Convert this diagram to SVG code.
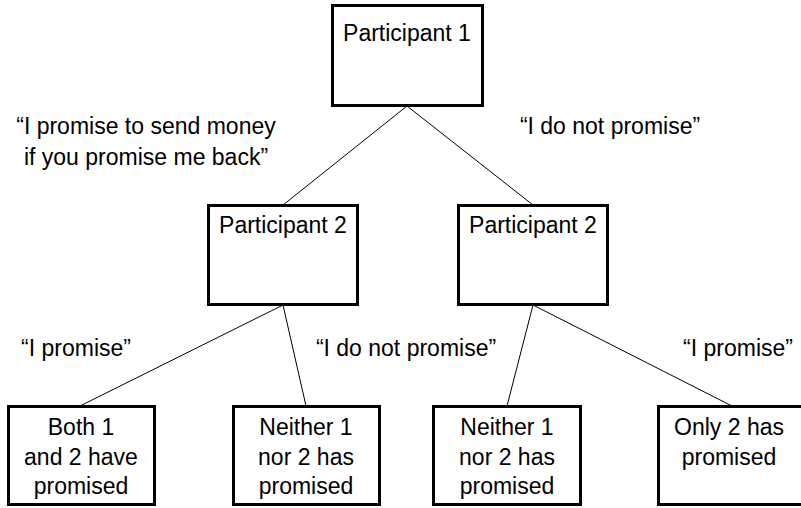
<svg xmlns="http://www.w3.org/2000/svg" width="801" height="508" viewBox="0 0 801 508">
<style>
.box{fill:#fff;stroke:#000;stroke-width:3}
.t{font-family:"Liberation Sans",Arial,sans-serif;font-size:23px;fill:#000;text-anchor:middle}
.c line{stroke:#000;stroke-width:1}
</style>
<rect width="801" height="508" fill="#fff"/>
<g class="c" id="connectors">
<line x1="407" y1="106" x2="283" y2="205"/>
<line x1="407" y1="106" x2="533" y2="205"/>
<line x1="283" y1="305" x2="80" y2="406"/>
<line x1="283" y1="305" x2="306" y2="406"/>
<line x1="533" y1="305" x2="507" y2="406"/>
<line x1="533" y1="305" x2="732" y2="406"/>
</g>
<g id="p1"><rect class="box" x="332.5" y="5.5" width="150" height="100"/><text class="t" x="407" y="41">Participant 1</text></g>
<g id="p2a"><rect class="box" x="208.5" y="205.5" width="149" height="99"/><text class="t" x="283" y="233">Participant 2</text></g>
<g id="p2b"><rect class="box" x="458.5" y="205.5" width="149" height="99"/><text class="t" x="533" y="233">Participant 2</text></g>
<g id="o1"><rect class="box" x="8.5" y="406.5" width="146" height="98"/><text class="t" x="81" y="435">Both 1</text><text class="t" x="81" y="465">and 2 have</text><text class="t" x="81" y="494">promised</text></g>
<g id="o2"><rect class="box" x="233.5" y="406.5" width="146" height="98"/><text class="t" x="306" y="435">Neither 1</text><text class="t" x="306" y="465">nor 2 has</text><text class="t" x="306" y="494">promised</text></g>
<g id="o3"><rect class="box" x="433.5" y="406.5" width="147" height="98"/><text class="t" x="507" y="435">Neither 1</text><text class="t" x="507" y="465">nor 2 has</text><text class="t" x="507" y="494">promised</text></g>
<g id="o4"><rect class="box" x="658.5" y="406.5" width="145" height="98"/><text class="t" x="729" y="435">Only 2 has</text><text class="t" x="729" y="465">promised</text></g>
<g id="labels">
<text class="t" x="146" y="134">“I promise to send money</text>
<text class="t" x="146" y="165">if you promise me back”</text>
<text class="t" x="610" y="134">“I do not promise”</text>
<text class="t" x="76" y="356">“I promise”</text>
<text class="t" x="406" y="356">“I do not promise”</text>
<text class="t" x="738" y="356">“I promise”</text>
</g>
</svg>
